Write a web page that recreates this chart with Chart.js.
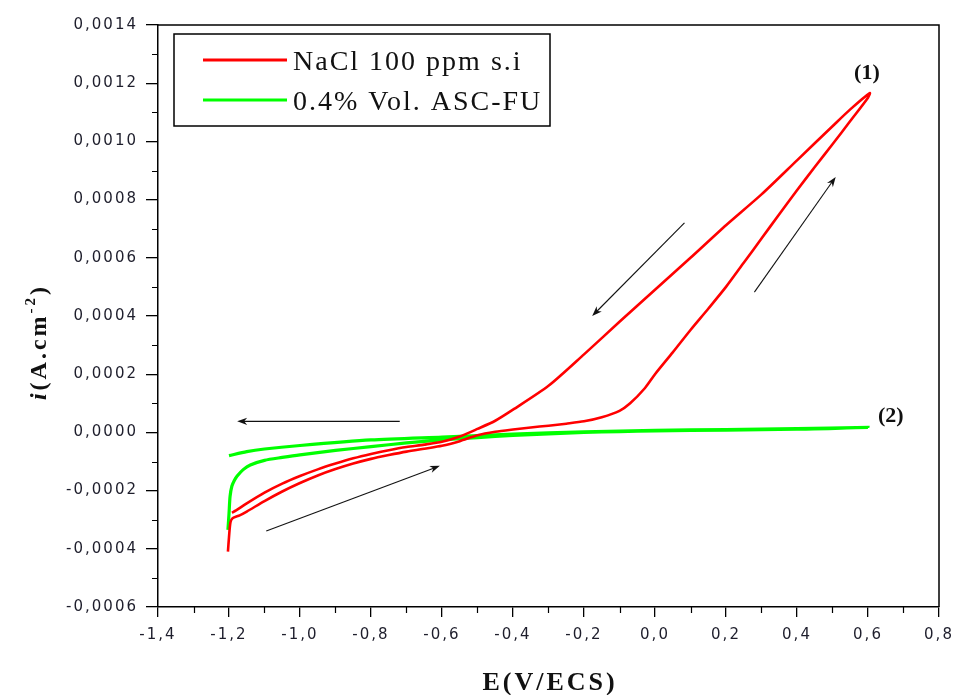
<!DOCTYPE html>
<html>
<head>
<meta charset="utf-8">
<script src="https://cdn.jsdelivr.net/npm/chart.js@4/dist/chart.umd.min.js"></script>
<style>
  html, body { margin: 0; padding: 0; background: #ffffff; }
  #wrap { width: 955px; height: 695px; }
</style>
</head>
<body>
<div id="wrap"><canvas id="c" width="955" height="695"></canvas></div>
<script>
// Axis ticks
const xTicks = [-1.4, -1.2, -1.0, -0.8, -0.6, -0.4, -0.2, 0.0, 0.2, 0.4, 0.6, 0.8];
const yTicks = [-0.0006, -0.0004, -0.0002, 0.0, 0.0002, 0.0004, 0.0006, 0.0008, 0.0010, 0.0012, 0.0014];

// Series names and curve tags
const seriesNames = ['NaCl 100 ppm s.i', '0.4% Vol. ASC-FU'];
const curveTags = ['(1)', '(2)'];

// Curve (1): NaCl 100 ppm, forward scan then reverse scan
const naclE = [
  -1.203, -1.200, -1.196, -1.190, -1.170, -1.150, -1.100, -1.050, -1.000, -0.950,
  -0.900, -0.850, -0.800, -0.750, -0.700, -0.650, -0.600, -0.550, -0.500, -0.450,
  -0.400, -0.350, -0.300, -0.250, -0.200, -0.150, -0.100, -0.070, -0.030, 0.000,
  0.050, 0.100, 0.150, 0.200, 0.250, 0.300, 0.350, 0.400, 0.450, 0.500,
  0.550, 0.600, 0.605,
  0.550, 0.500, 0.400, 0.300, 0.200, 0.100, 0.000, -0.100, -0.200, -0.300,
  -0.400, -0.450, -0.500, -0.550, -0.600, -0.650, -0.700, -0.750, -0.800, -0.850,
  -0.900, -0.950, -1.000, -1.050, -1.100, -1.150, -1.180, -1.192
];
const naclI = [
  -0.000410, -0.000360, -0.000310, -0.000295, -0.000285, -0.000272, -0.000236, -0.000203, -0.000174, -0.000148,
  -0.000126, -0.000107, -0.000091, -0.000078, -0.000066, -0.000056, -0.000046, -0.000030, -0.000010, 0.000002,
  0.000010, 0.000017, 0.000023, 0.000030, 0.000038, 0.000052, 0.000074, 0.000100, 0.000150, 0.000200,
  0.000275, 0.000352, 0.000425, 0.000500, 0.000583, 0.000666, 0.000750, 0.000832, 0.000912, 0.000990,
  0.001070, 0.001150, 0.001166,
  0.001110, 0.001052, 0.000935, 0.000818, 0.000712, 0.000600, 0.000490, 0.000380, 0.000268, 0.000160,
  0.000078, 0.000040, 0.000012, -0.000014, -0.000032, -0.000042, -0.000050, -0.000061, -0.000074, -0.000089,
  -0.000107, -0.000127, -0.000150, -0.000176, -0.000207, -0.000244, -0.000268, -0.000276
];

// Curve (2): 0.4% Vol. ASC-FU, forward scan then reverse scan
const ascE = [
  -1.203, -1.200, -1.197, -1.192, -1.185, -1.177, -1.160, -1.140, -1.100, -1.050,
  -1.000, -0.900, -0.800, -0.700, -0.600, -0.500, -0.400, -0.300, -0.200, -0.100,
  0.000, 0.200, 0.400, 0.600,
  0.400, 0.200, 0.000, -0.200, -0.400, -0.600, -0.800, -1.000, -1.100, -1.150, -1.200
];
const ascI = [
  -0.000335, -0.000280, -0.000220, -0.000185, -0.000165, -0.000150, -0.000128, -0.000112, -0.000096, -0.000086,
  -0.000077, -0.000062, -0.000049, -0.000036, -0.000026, -0.000018, -0.000010, -0.000005, 0.000000, 0.000003,
  0.000005, 0.000008, 0.000011, 0.000017,
  0.000013, 0.000010, 0.000007, 0.000002, -0.000006, -0.000016, -0.000026, -0.000045, -0.000057, -0.000066, -0.000080
];

// Scan-direction arrows, [E0, i0, E1, i1] in data units (head at the second point)
const scanArrows = [
  [0.083, 0.000720, -0.177, 0.000400],
  [0.280, 0.000482, 0.509, 0.000878],
  [-0.719, 0.000038, -1.177, 0.000038],
  [-1.095, -0.000339, -0.606, -0.000115]
];
// Curve tag anchors [E, i]
const tagAnchors = [[0.597, 0.001235], [0.664, 0.000056]];

const toPoints = (xs, ys) => xs.map((x, k) => ({ x: x, y: ys[k] }));
const fmtComma = (v, d) => {
  const s = Math.abs(v) < 1e-12 ? (0).toFixed(d) : v.toFixed(d);
  return s.replace('.', ',');
};
const mids = arr => arr.slice(1).map((v, k) => (v + arr[k]) / 2);

const TICK_SPACING = '2px';

const decorPlugin = {
  id: 'decor',
  beforeLayout(chart) {
    chart.ctx.letterSpacing = TICK_SPACING;
  },
  beforeDraw(chart) {
    chart.ctx.letterSpacing = TICK_SPACING;
  },
  afterDraw(chart) {
    const ctx = chart.ctx;
    const a = chart.chartArea;
    const xs = chart.scales.x, ys = chart.scales.y;
    ctx.save();
    ctx.letterSpacing = '0px';

    // frame top & right
    ctx.strokeStyle = '#000';
    ctx.lineWidth = 1.5;
    ctx.beginPath();
    ctx.moveTo(a.left, a.top); ctx.lineTo(a.right, a.top); ctx.lineTo(a.right, a.bottom);
    ctx.stroke();

    // minor ticks
    ctx.lineWidth = 1.2;
    ctx.beginPath();
    mids(xTicks).forEach(v => {
      const px = Math.round(xs.getPixelForValue(v)) + 0.5;
      ctx.moveTo(px, a.bottom); ctx.lineTo(px, a.bottom + 6);
    });
    mids(yTicks).forEach(v => {
      const py = Math.round(ys.getPixelForValue(v)) + 0.5;
      ctx.moveTo(a.left, py); ctx.lineTo(a.left - 6, py);
    });
    ctx.stroke();

    // scan-direction arrows
    ctx.strokeStyle = '#111';
    ctx.fillStyle = '#111';
    ctx.lineWidth = 1.1;
    scanArrows.forEach(([e0, i0, e1, i1]) => {
      const x0 = xs.getPixelForValue(e0), y0 = ys.getPixelForValue(i0);
      const x1 = xs.getPixelForValue(e1), y1 = ys.getPixelForValue(i1);
      const ang = Math.atan2(y1 - y0, x1 - x0);
      const L = 10, W = 3.6;
      ctx.beginPath();
      ctx.moveTo(x0, y0);
      ctx.lineTo(x1 - Math.cos(ang) * L * 0.6, y1 - Math.sin(ang) * L * 0.6);
      ctx.stroke();
      ctx.beginPath();
      ctx.moveTo(x1, y1);
      ctx.lineTo(x1 - Math.cos(ang) * L + Math.sin(ang) * W, y1 - Math.sin(ang) * L - Math.cos(ang) * W);
      ctx.lineTo(x1 - Math.cos(ang) * L * 0.7, y1 - Math.sin(ang) * L * 0.7);
      ctx.lineTo(x1 - Math.cos(ang) * L - Math.sin(ang) * W, y1 - Math.sin(ang) * L + Math.cos(ang) * W);
      ctx.closePath();
      ctx.fill();
    });

    // curve tags
    ctx.fillStyle = '#111';
    ctx.font = 'bold 22px "Liberation Serif", "Times New Roman", serif';
    ctx.textAlign = 'center';
    ctx.textBaseline = 'middle';
    tagAnchors.forEach(([e, i], k) => {
      ctx.fillText(curveTags[k], xs.getPixelForValue(e), ys.getPixelForValue(i));
    });

    // legend box
    const lx = a.left + 16, ly = a.top + 9, lw = 376, lh = 92;
    ctx.strokeStyle = '#000';
    ctx.lineWidth = 1.5;
    ctx.strokeRect(lx, ly, lw, lh);
    const colors = chart.data.datasets.map(d => d.borderColor);
    ctx.font = '28px "Liberation Serif", "Times New Roman", serif';
    ctx.letterSpacing = '2px';
    ctx.textAlign = 'left';
    ctx.textBaseline = 'alphabetic';
    seriesNames.forEach((name, k) => {
      const cy = ly + 26 + k * 40;
      ctx.strokeStyle = colors[k];
      ctx.lineWidth = 3;
      ctx.beginPath();
      ctx.moveTo(lx + 29, cy); ctx.lineTo(lx + 113, cy);
      ctx.stroke();
      ctx.fillStyle = '#111';
      ctx.fillText(name, lx + 119, cy + 9.5);
    });

    // x-axis title
    ctx.fillStyle = '#111';
    ctx.font = 'bold 26px "Liberation Serif", "Times New Roman", serif';
    ctx.letterSpacing = '3px';
    ctx.textAlign = 'center';
    ctx.textBaseline = 'alphabetic';
    ctx.fillText('E(V/ECS)', (a.left + a.right) / 2 + 1.5, 690);

    // y-axis title, rotated, with superscript exponent
    ctx.save();
    ctx.translate(46, 342);
    ctx.rotate(-Math.PI / 2);
    const fMain = 'bold 24px "Liberation Serif", "Times New Roman", serif';
    const fIt = 'italic bold 24px "Liberation Serif", "Times New Roman", serif';
    const fSup = 'bold 15px "Liberation Serif", "Times New Roman", serif';
    ctx.letterSpacing = '3px';
    const parts = [
      { t: 'i', f: fIt, dy: 0 },
      { t: '(A.cm', f: fMain, dy: 0 },
      { t: '-2', f: fSup, dy: -11 },
      { t: ')', f: fMain, dy: 0 }
    ];
    let total = 0;
    parts.forEach(p => { ctx.font = p.f; p.w = ctx.measureText(p.t).width; total += p.w; });
    let cx = -total / 2;
    ctx.textAlign = 'left';
    parts.forEach(p => { ctx.font = p.f; ctx.fillText(p.t, cx, p.dy); cx += p.w; });
    ctx.restore();

    ctx.restore();
  }
};

const tickFont = { family: '"DejaVu Sans", Arial, sans-serif', size: 15 };
const tickColor = '#1e1e2c';

new Chart(document.getElementById('c').getContext('2d'), {
  type: 'scatter',
  data: {
    datasets: [
      {
        label: seriesNames[0],
        data: toPoints(naclE, naclI),
        showLine: true,
        borderColor: '#ff0000',
        backgroundColor: '#ff0000',
        borderWidth: 2.6,
        pointRadius: 0,
        tension: 0.25,
        fill: false
      },
      {
        label: seriesNames[1],
        data: toPoints(ascE, ascI),
        showLine: true,
        borderColor: '#00ff00',
        backgroundColor: '#00ff00',
        borderWidth: 3.2,
        pointRadius: 0,
        tension: 0.25,
        fill: false
      }
    ]
  },
  options: {
    responsive: false,
    animation: false,
    devicePixelRatio: 1,
    layout: { padding: { left: 0, right: 16, top: 25, bottom: 0 } },
    plugins: { legend: { display: false }, tooltip: { enabled: false } },
    scales: {
      x: {
        type: 'linear',
        min: -1.4,
        max: 0.8,
        afterBuildTicks: s => { s.ticks = xTicks.map(v => ({ value: v })); },
        afterFit: s => { s.height = 88; s.paddingLeft = 0; s.paddingRight = 0; },
        ticks: {
          autoSkip: false,
          maxRotation: 0,
          padding: 9,
          font: tickFont,
          color: tickColor,
          callback: v => fmtComma(v, 1)
        },
        grid: { drawOnChartArea: false, drawTicks: true, tickLength: 10, color: '#000', lineWidth: 1.3 },
        border: { display: true, color: '#000', width: 1.5 }
      },
      y: {
        type: 'linear',
        min: -0.0006,
        max: 0.0014,
        afterBuildTicks: s => { s.ticks = yTicks.map(v => ({ value: v })); },
        afterFit: s => { s.width = 158; s.paddingTop = 0; s.paddingBottom = 0; },
        ticks: {
          autoSkip: false,
          padding: 8,
          font: tickFont,
          color: tickColor,
          callback: v => fmtComma(v, 4)
        },
        grid: { drawOnChartArea: false, drawTicks: true, tickLength: 12, color: '#000', lineWidth: 1.3 },
        border: { display: true, color: '#000', width: 1.5 }
      }
    }
  },
  plugins: [decorPlugin]
});
</script>
</body>
</html>
